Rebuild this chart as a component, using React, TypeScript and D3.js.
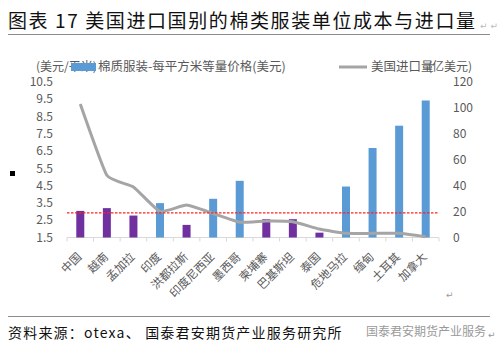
import React, { useEffect, useRef } from 'react';
import * as d3 from 'd3';

// 国别（横轴）
const categories = ['中国', '越南', '孟加拉', '印度', '洪都拉斯', '印度尼西亚', '墨西哥', '柬埔寨', '巴基斯坦', '泰国', '危地马拉', '缅甸', '土耳其', '加拿大'];
// 棉质服装-每平方米等量价格(美元)
const unitCost = [3.04, 3.2, 2.77, 3.49, 2.23, 3.74, 4.78, 2.56, 2.56, 1.78, 4.45, 6.68, 7.97, 9.43];
// 美国进口量(亿美元)
const imports = [103, 48, 39, 20, 25, 18.5, 11.8, 12.8, 12.2, 6.5, 3.2, 3.2, 3.2, 0.6];
// 柱子分组
const groups = ['a', 'a', 'a', 'b', 'a', 'b', 'b', 'a', 'a', 'a', 'b', 'b', 'b', 'b'];
const avgCost = 2.92;
const leftTicks = [1.5, 2.5, 3.5, 4.5, 5.5, 6.5, 7.5, 8.5, 9.5, 10.5];
const rightTicks = [0, 20, 40, 60, 80, 100, 120];

const W = 499, H = 352;
const FONT = '"Noto Sans CJK SC", "Noto Sans", sans-serif';

export default function App() {
  const ref = useRef<SVGSVGElement>(null);

  useEffect(() => {
    const svg = d3.select(ref.current);
    svg.selectAll('*').remove();

    const top = 82, bottom = 237.5, left = 67, right = 439;

    const x = d3.scaleBand().domain(categories).range([left, right]);
    const yL = d3.scaleLinear().domain([1.5, 10.5]).range([bottom, top]);
    const yR = d3.scaleLinear().domain([0, 120]).range([bottom, top]);
    const color = d3.scaleOrdinal<string>().domain(['a', 'b']).range(['#7030a0', '#5b9bd5']);
    const cx = (c: string) => (x(c) as number) + x.bandwidth() / 2;

    // title
    svg.append('text')
      .attr('x', 8).attr('y', 28)
      .attr('font-family', FONT).attr('font-size', 19).attr('letter-spacing', 1.6)
      .attr('fill', '#111')
      .text('图表 17 美国进口国别的棉类服装单位成本与进口量');
    svg.append('text').attr('x', 480).attr('y', 29).attr('font-size', 9).attr('fill', '#bbb')
      .attr('font-family', 'DejaVu Sans').text('↵ ↵');
    svg.append('line').attr('x1', 8).attr('x2', 490).attr('y1', 34.5).attr('y2', 34.5)
      .attr('stroke', '#8c8c8c').attr('stroke-width', 1.2);

    // black marker
    svg.append('rect').attr('x', 10).attr('y', 171).attr('width', 5).attr('height', 5).attr('fill', '#000');

    // axis baseline + ticks
    svg.append('line').attr('x1', left).attr('x2', right).attr('y1', bottom).attr('y2', bottom)
      .attr('stroke', '#d9d9d9').attr('stroke-width', 1);
    const edges = categories.map(c => x(c) as number).concat([right]);
    svg.append('g').selectAll('line').data(edges).enter().append('line')
      .attr('x1', d => d).attr('x2', d => d).attr('y1', bottom).attr('y2', bottom + 4)
      .attr('stroke', '#d9d9d9');

    // left ticks
    svg.append('g').selectAll('text').data(leftTicks).enter().append('text')
      .attr('x', 53).attr('y', d => yL(d)).attr('dy', '0.35em')
      .attr('text-anchor', 'end').attr('font-family', FONT).attr('font-size', 12)
      .attr('fill', '#595959').text(d => d.toFixed(1));
    // right ticks
    svg.append('g').selectAll('text').data(rightTicks).enter().append('text')
      .attr('x', 453).attr('y', d => yR(d)).attr('dy', '0.35em')
      .attr('font-family', FONT).attr('font-size', 12)
      .attr('fill', '#595959').text(d => d);

    // bars
    svg.append('g').selectAll('rect').data(categories).enter().append('rect')
      .attr('x', d => cx(d) - 4).attr('width', 8)
      .attr('y', (d, i) => yL(unitCost[i]))
      .attr('height', (d, i) => bottom - yL(unitCost[i]))
      .attr('fill', (d, i) => color(groups[i]));

    // import line
    const line = d3.line<number>()
      .x((d, i) => cx(categories[i]))
      .y(d => yR(d))
      .curve(d3.curveCardinal.tension(0.6));
    svg.append('path').datum(imports).attr('d', line)
      .attr('fill', 'none').attr('stroke', '#a5a5a5').attr('stroke-width', 3);

    // average line
    svg.append('line').attr('x1', left).attr('x2', right)
      .attr('y1', yL(avgCost)).attr('y2', yL(avgCost))
      .attr('stroke', '#ff2020').attr('stroke-width', 1.3).attr('stroke-dasharray', '2.5,1.5');

    // category labels
    svg.append('g').selectAll('text').data(categories).enter().append('text')
      .attr('transform', d => `translate(${cx(d) + 2},${bottom + 20}) rotate(-45)`)
      .attr('text-anchor', 'end').attr('font-family', FONT).attr('font-size', 11.5)
      .attr('fill', '#595959').text(d => d);

    // legend + axis units
    const ly = 67;
    svg.append('text').attr('x', 36).attr('y', ly).attr('dy', '0.35em')
      .attr('font-family', FONT).attr('font-size', 12).attr('fill', '#595959').text('(美元/平米)');
    svg.append('rect').attr('x', 71).attr('y', ly - 4).attr('width', 25).attr('height', 8).attr('fill', '#5b9bd5');
    svg.append('text').attr('x', 98).attr('y', ly).attr('dy', '0.35em')
      .attr('font-family', FONT).attr('font-size', 12.5).attr('fill', '#595959')
      .text('棉质服装-每平方米等量价格(美元)');
    svg.append('line').attr('x1', 339).attr('x2', 367).attr('y1', ly).attr('y2', ly)
      .attr('stroke', '#a5a5a5').attr('stroke-width', 3);
    svg.append('text').attr('x', 371).attr('y', ly).attr('dy', '0.35em')
      .attr('font-family', FONT).attr('font-size', 12.5).attr('fill', '#595959').text('美国进口量');
    svg.append('text').attr('x', 472).attr('y', ly).attr('dy', '0.35em').attr('text-anchor', 'end')
      .attr('font-family', FONT).attr('font-size', 12).attr('fill', '#595959').text('(亿美元)');

    svg.append('text').attr('x', 446).attr('y', 298).attr('font-size', 9).attr('fill', '#999')
      .attr('font-family', 'DejaVu Sans').text('↵');

    // footer
    svg.append('line').attr('x1', 8).attr('x2', 490).attr('y1', 316.5).attr('y2', 316.5)
      .attr('stroke', '#8c8c8c').attr('stroke-width', 1.2);
    svg.append('text').attr('x', 8).attr('y', 338)
      .attr('font-family', FONT).attr('font-size', 14).attr('letter-spacing', 1.2).attr('fill', '#111')
      .text('资料来源：otexa、 国泰君安期货产业服务研究所');
    svg.append('text').attr('x', 366).attr('y', 336)
      .attr('font-family', FONT).attr('font-size', 12).attr('fill', '#9a9a9a')
      .text('国泰君安期货产业服务');
    svg.append('text').attr('x', 488).attr('y', 338).attr('font-size', 9).attr('fill', '#999')
      .attr('font-family', 'DejaVu Sans').text('↵');
  }, []);

  return (
    <svg ref={ref} width={W} height={H}
      style={{ position: 'absolute', left: 0, top: 0, background: '#fff' }} />
  );
}
